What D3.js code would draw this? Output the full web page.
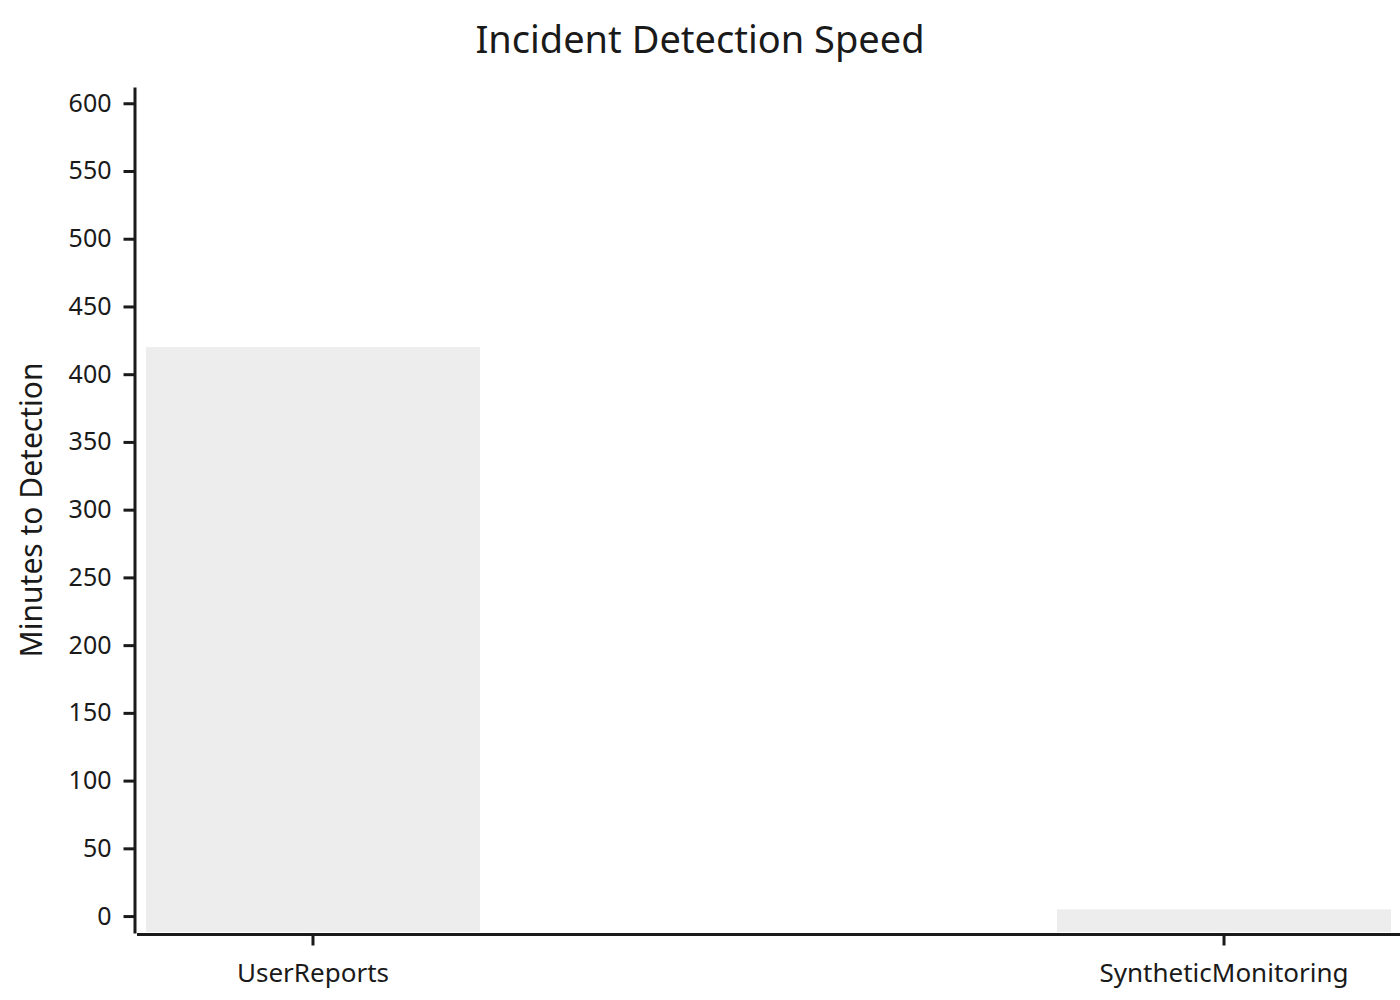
<!DOCTYPE html>
<html>
<head>
<meta charset="utf-8">
<script src="https://cdn.jsdelivr.net/npm/d3@7"></script>
<style>
  html, body { margin: 0; padding: 0; background: #fff; }
  svg { display: block; }
  text { font-family: "Noto Sans", "Open Sans", sans-serif; fill: #1a1a1a; }
</style>
</head>
<body>
<svg id="chart" width="1400" height="1000"></svg>
<script>
const categories = ["UserReports", "SyntheticMonitoring"];
const values = [420, 5];
const yTicks = [0, 50, 100, 150, 200, 250, 300, 350, 400, 450, 500, 550, 600];
const title = "Incident Detection Speed";
const yLabel = "Minutes to Detection";

const svg = d3.select("#chart");
const axisColor = "#1a1a1a";

const y = d3.scaleLinear().domain([-12.5, 612]).range([933, 87]);
const x = d3.scaleBand().domain(categories).range([146, 1391]).paddingInner(0.6334).paddingOuter(0);

// bars
svg.append("g").selectAll("rect").data(values).join("rect")
  .attr("x", (d, i) => x(categories[i]))
  .attr("width", x.bandwidth())
  .attr("y", d => y(d))
  .attr("height", d => y(-12.5) - y(d) - 1)
  .attr("fill", "#ededed");

// y axis
const yAxis = svg.append("g").attr("transform", "translate(134.5,0)")
  .call(d3.axisLeft(y).tickValues(yTicks).tickSize(11).tickPadding(12).tickSizeOuter(0));
yAxis.select(".domain").attr("stroke", axisColor).attr("stroke-width", 3);
yAxis.selectAll(".tick line").attr("stroke", axisColor).attr("stroke-width", 3);
yAxis.selectAll(".tick text").attr("font-size", 25).attr("fill", axisColor)
  .style("font-family", '"Noto Sans", sans-serif');

// x axis
const xAxis = svg.append("g").attr("transform", "translate(0,934.5)")
  .call(d3.axisBottom(x).tickSize(11).tickPadding(18).tickSizeOuter(0));
xAxis.select(".domain").attr("stroke", axisColor).attr("stroke-width", 3)
  .attr("d", "M137,0H1400");
xAxis.selectAll(".tick line").attr("stroke", axisColor).attr("stroke-width", 3);
xAxis.selectAll(".tick text").attr("font-size", 26).attr("fill", axisColor)
  .style("font-family", '"Noto Sans", sans-serif');

// title
svg.append("text").attr("x", 700).attr("y", 53).attr("text-anchor", "middle")
  .attr("font-size", 38).text(title);

// y label
svg.append("text").attr("transform", "translate(42,510) rotate(-90)")
  .attr("text-anchor", "middle").attr("font-size", 30).text(yLabel);
</script>
</body>
</html>
